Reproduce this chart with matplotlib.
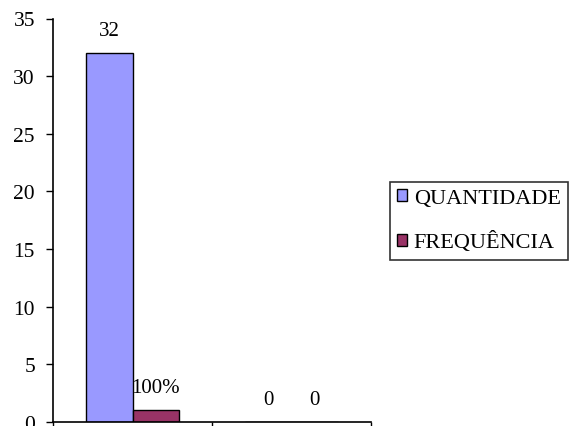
import matplotlib
matplotlib.use("Agg")
import matplotlib.pyplot as plt
import numpy as np

plt.rcParams['font.family'] = ['Liberation Serif', 'DejaVu Serif']

categories = ["SIM", "NÃO"]
quantidade = [32, 0]
frequencia = [1.0, 0.0]
quantidade_labels = ["32", "0"]
frequencia_labels = ["100%", "0"]
series_names = ["QUANTIDADE", "FREQUÊNCIA"]

W, H = 572, 427
fig = plt.figure(figsize=(W / 100, H / 100), dpi=100)
ax = fig.add_axes([53 / W, (H - 423) / H, 318 / W, (423 - 19.5) / H])

x = np.arange(len(categories))
w = 0.29
b1 = ax.bar(x - w / 2, quantidade, w, color="#9999FF", edgecolor="black",
            linewidth=1, label=series_names[0])
b2 = ax.bar(x + w / 2, frequencia, w, color="#993366", edgecolor="black",
            linewidth=1, label=series_names[1])

for bars, labels in ((b1, quantidade_labels), (b2, frequencia_labels)):
    for rect, lab in zip(bars, labels):
        ax.text(rect.get_x() + rect.get_width() / 2, rect.get_height() + 1.6, lab,
                ha="center", va="baseline", fontsize=15)

ax.set_xlim(-0.5, 1.5)
ax.set_ylim(0, 35)
ax.set_yticks(np.arange(0, 36, 5))
ax.set_xticks([-0.5, 0.5, 1.5])
ax.set_xticklabels([])
ax.tick_params(axis="y", direction="out", length=5, width=1, labelsize=15.5, pad=8)
ax.tick_params(axis="x", direction="out", length=5, width=1)
ax.spines["top"].set_visible(False)
ax.spines["right"].set_visible(False)
for s in ("left", "bottom"):
    ax.spines[s].set_linewidth(1.2)

leg = fig.legend(handles=[b1, b2], labels=series_names, loc="upper left",
                 bbox_to_anchor=(390 / W, 1 - 183 / H), fontsize=16,
                 frameon=True, fancybox=False, edgecolor="black",
                 handlelength=0.45, handleheight=0.45, handletextpad=0.3,
                 labelspacing=1.05, borderpad=0.32, borderaxespad=0)
leg.get_frame().set_linewidth(1.2)

fig.savefig("out.png", dpi=100)
